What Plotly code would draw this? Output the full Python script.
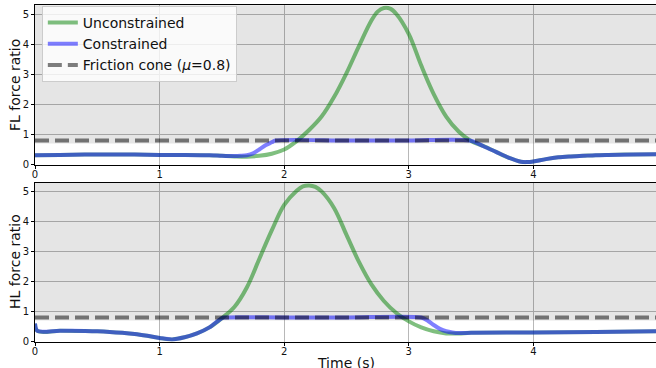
import plotly.graph_objects as go

# ---------------- data ----------------
MU = 0.8
CONE_T = [0.0, 5.0]
CONE_V = [MU, MU]
SHADE_LOW = 0.7

# FL (front leg) panel
FL_UNC_T = [0, 0.2, 0.4, 0.6, 0.8, 1.0, 1.2, 1.4, 1.5, 1.6, 1.7, 1.8, 1.9, 2.0, 2.1, 2.2, 2.3, 2.4,
            2.5, 2.6, 2.7, 2.75, 2.8, 2.85, 2.9, 3.0, 3.1, 3.2, 3.3, 3.4, 3.5, 3.6, 3.7, 3.8, 3.9,
            3.95, 4.0, 4.1, 4.2, 4.3, 4.4, 4.5, 4.6, 4.8, 5.0]
FL_UNC_V = [0.31, 0.32, 0.33, 0.33, 0.33, 0.32, 0.32, 0.31, 0.29, 0.27, 0.26, 0.29, 0.36, 0.5,
            0.78, 1.15, 1.6, 2.25, 3.05, 3.95, 4.8, 5.1, 5.22, 5.2, 5.02, 4.35, 3.3, 2.35, 1.6,
            1.1, 0.78, 0.61, 0.42, 0.23, 0.09, 0.08, 0.1, 0.18, 0.24, 0.27, 0.29, 0.31, 0.32,
            0.335, 0.345]
FL_CON_T = [0, 0.2, 0.4, 0.6, 0.8, 1.0, 1.2, 1.4, 1.5, 1.6, 1.65, 1.7, 1.75, 1.8, 1.85, 1.9, 1.93,
            2.5, 3.0, 3.49, 3.6, 3.7, 3.8, 3.9, 3.95, 4.0, 4.1, 4.2, 4.3, 4.4, 4.5, 4.6, 4.8, 5.0]
FL_CON_V = [0.31, 0.32, 0.33, 0.33, 0.33, 0.32, 0.32, 0.31, 0.29, 0.28, 0.29, 0.31, 0.37, 0.5,
            0.64, 0.74, 0.8, 0.8, 0.8, 0.8, 0.61, 0.42, 0.23, 0.09, 0.08, 0.1, 0.18, 0.24, 0.27,
            0.29, 0.31, 0.32, 0.335, 0.345]

# HL (hind leg) panel
HL_UNC_T = [0, 0.02, 0.2, 0.4, 0.5, 0.6, 0.7, 0.8, 0.9, 1.0, 1.1, 1.2, 1.3, 1.4, 1.5, 1.6, 1.7,
            1.8, 1.9, 2.0, 2.1, 2.15, 2.2, 2.25, 2.3, 2.4, 2.5, 2.6, 2.7, 2.8, 2.9, 3.0, 3.1, 3.2,
            3.3, 3.4, 3.5, 4.0, 4.5, 5.0]
HL_UNC_V = [0.6, 0.35, 0.36, 0.35, 0.34, 0.32, 0.29, 0.25, 0.19, 0.12, 0.07, 0.14, 0.27, 0.47,
            0.78, 1.15, 1.8, 2.75, 3.7, 4.55, 5.02, 5.17, 5.2, 5.15, 5.0, 4.45, 3.55, 2.65, 1.9,
            1.35, 0.95, 0.67, 0.47, 0.34, 0.27, 0.27, 0.29, 0.3, 0.32, 0.34]
HL_CON_T = [0, 0.02, 0.2, 0.4, 0.5, 0.6, 0.7, 0.8, 0.9, 1.0, 1.1, 1.2, 1.3, 1.4, 1.5, 1.52,
            2.0, 2.5, 3.1, 3.15, 3.2, 3.25, 3.3, 3.35, 3.4, 3.5, 4.0, 4.5, 5.0]
HL_CON_V = [0.6, 0.35, 0.36, 0.35, 0.34, 0.32, 0.29, 0.25, 0.19, 0.12, 0.07, 0.14, 0.27, 0.47,
            0.78, 0.8, 0.8, 0.8, 0.8, 0.7, 0.55, 0.42, 0.34, 0.3, 0.28, 0.29, 0.3, 0.32, 0.34]

Y_LABELS = ["FL force ratio", "HL force ratio"]
X_LABEL = "Time (s)"
TICKS_X = [0, 1, 2, 3, 4, 5]
TICKS_Y = [0, 1, 2, 3, 4, 5]
Y_TOPS = [5.31, 5.28]

# ---------------- styles ----------------
GREEN = "rgba(0,128,0,0.5)"
BLUE = "rgba(0,0,255,0.5)"
GREY = "rgba(0,0,0,0.5)"
SHADE = "rgba(0,0,0,0.1)"
LW = 4

fig = go.Figure()
W, H = 656, 368
XMAX = (656 - 35) / 124.6

panels = [
    ("x", "y", FL_UNC_T, FL_UNC_V, FL_CON_T, FL_CON_V, True, Y_TOPS[0]),
    ("x2", "y2", HL_UNC_T, HL_UNC_V, HL_CON_T, HL_CON_V, False, Y_TOPS[1]),
]
for xa, ya, ut, uv, ct, cv, leg, ytop in panels:
    # shaded region above the friction-cone band
    t0, t1 = CONE_T
    fig.add_trace(go.Scatter(x=[t0, t1, t1, t0, t0],
                             y=[SHADE_LOW, SHADE_LOW, ytop + 1, ytop + 1, SHADE_LOW],
                             mode="lines", fill="toself", fillcolor=SHADE,
                             line=dict(width=0, color="rgba(0,0,0,0)"),
                             xaxis=xa, yaxis=ya, showlegend=False, hoverinfo="skip"))
    fig.add_trace(go.Scatter(x=ut, y=uv, mode="lines", name="Unconstrained",
                             line=dict(color=GREEN, width=LW, shape="spline", smoothing=1.0),
                             xaxis=xa, yaxis=ya, showlegend=leg, hoverinfo="skip"))
    fig.add_trace(go.Scatter(x=ct, y=cv, mode="lines", name="Constrained",
                             line=dict(color=BLUE, width=LW, shape="spline", smoothing=0.8),
                             xaxis=xa, yaxis=ya, showlegend=leg, hoverinfo="skip"))
    fig.add_trace(go.Scatter(x=CONE_T, y=CONE_V, mode="lines",
                             name="Friction cone (<i>μ</i>=0.8)",
                             line=dict(color=GREY, width=LW, dash="14px,6px"),
                             xaxis=xa, yaxis=ya, showlegend=leg, hoverinfo="skip"))

axis_common = dict(showline=True, linecolor="black", linewidth=1, showgrid=True,
                   gridcolor="#b8b8b8", gridwidth=1, zeroline=False, ticks="outside",
                   ticklen=3, tickcolor="black",
                   tickfont=dict(family="DejaVu Sans", size=10, color="#111"))

fig.update_layout(
    template="none",
    width=W, height=H, margin=dict(l=35, r=0, t=0, b=0),
    paper_bgcolor="#ffffff", plot_bgcolor="#ffffff",
    font=dict(family="DejaVu Sans", color="#111"),
    xaxis=dict(domain=[0, 1], anchor="y", range=[0, XMAX], tickvals=TICKS_X, mirror=True,
               ticklabelstandoff=-3, **axis_common),
    xaxis2=dict(domain=[0, 1], anchor="y2", range=[0, XMAX], tickvals=TICKS_X, mirror=True,
                ticklabelstandoff=-3, **axis_common),
    yaxis=dict(domain=[1 - 164.5 / H, 1 - 5.3 / H], anchor="x", range=[0, Y_TOPS[0]],
               tickvals=TICKS_Y, **axis_common),
    yaxis2=dict(domain=[1 - 341.5 / H, 1 - 183 / H], anchor="x2", range=[0, Y_TOPS[1]],
                tickvals=TICKS_Y, **axis_common),
    legend=dict(x=0.011, y=1 - 6 / H, xanchor="left", yanchor="top",
                bgcolor="rgba(255,255,255,0.8)", bordercolor="#cccccc", borderwidth=1,
                font=dict(family="DejaVu Sans", size=14, color="#111"),
                itemwidth=30, tracegroupgap=0),
    showlegend=True,
)

for label, ymid in zip(Y_LABELS, [85, 262]):
    fig.add_annotation(text=label, xref="paper", yref="paper", x=(15 - 35) / 621,
                       y=1 - ymid / H, textangle=-90, showarrow=False,
                       xanchor="center", yanchor="middle",
                       font=dict(family="DejaVu Sans", size=14, color="#111"))
fig.add_annotation(text=X_LABEL, xref="paper", yref="paper", x=(346 - 35) / 621,
                   y=(H - 353) / H, yanchor="top", xanchor="center", showarrow=False,
                   font=dict(family="DejaVu Sans", size=14, color="#111"))

fig.write_html("out.html")
